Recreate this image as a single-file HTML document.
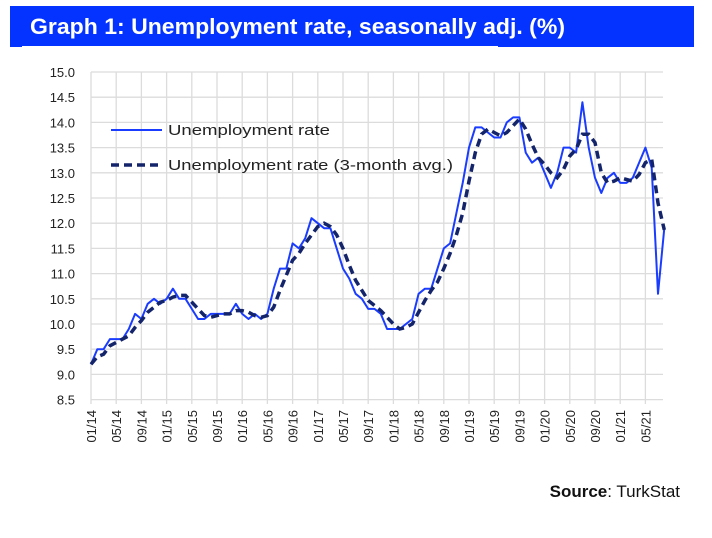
<!DOCTYPE html>
<html><head><meta charset="utf-8"><style>
body{margin:0;background:#fff;width:712px;height:533px;overflow:hidden;font-family:"Liberation Sans",sans-serif}
</style></head><body>
<svg id="s" width="712" height="533" xmlns="http://www.w3.org/2000/svg">
<rect x="10" y="6" width="684" height="41" fill="#0433ff"/>
<rect x="22" y="46" width="476" height="2" fill="#fff"/>
<text x="30" y="34" fill="#fff" font-size="22" font-weight="bold" textLength="535" lengthAdjust="spacingAndGlyphs">Graph 1: Unemployment rate, seasonally adj. (%)</text>
<g id="grid"></g>
<g id="lab" font-size="13" fill="#222"></g>
<polyline id="act" fill="none" stroke="#1a3cff" stroke-width="2" stroke-linejoin="round"/>
<polyline id="avg" fill="none" stroke="#14246b" stroke-width="3.5" stroke-dasharray="8,5"/>
<line x1="111" y1="130" x2="162" y2="130" stroke="#1a3cff" stroke-width="2"/>
<line x1="111" y1="165" x2="162" y2="165" stroke="#14246b" stroke-width="3.5" stroke-dasharray="8,5"/>
<text x="168" y="135" font-size="15" fill="#222" textLength="162" lengthAdjust="spacingAndGlyphs">Unemployment rate</text>
<text x="168" y="170" font-size="15" fill="#222" textLength="285" lengthAdjust="spacingAndGlyphs">Unemployment rate (3-month avg.)</text>
<text x="680" y="497" font-size="17" fill="#111" text-anchor="end"><tspan font-weight="bold">Source</tspan>: TurkStat</text>
</svg>
<script>
var v=[9.2,9.5,9.5,9.7,9.7,9.7,9.9,10.2,10.1,10.4,10.5,10.4,
10.5,10.7,10.5,10.5,10.3,10.1,10.1,10.2,10.2,10.2,10.2,10.4,
10.2,10.1,10.2,10.1,10.2,10.7,11.1,11.1,11.6,11.5,11.7,12.1,
12.0,11.9,11.9,11.5,11.1,10.9,10.6,10.5,10.3,10.3,10.2,9.9,
9.9,9.9,10.0,10.1,10.6,10.7,10.7,11.1,11.5,11.6,12.2,12.8,
13.5,13.9,13.9,13.8,13.7,13.7,14.0,14.1,14.1,13.4,13.2,13.3,
13.0,12.7,13.0,13.5,13.5,13.4,14.4,13.5,12.9,12.6,12.9,13.0,
12.8,12.8,12.9,13.2,13.5,13.1,10.6,11.9];
var X0=91,DX=6.3,Y=function(u){return 72+(15-u)*50.4};
var ns="http://www.w3.org/2000/svg",g=document.getElementById('grid'),l=document.getElementById('lab');
function el(t,a,p){var e=document.createElementNS(ns,t);for(var k in a)e.setAttribute(k,a[k]);p.appendChild(e);return e}
for(var k=0;k<=13;k++){var u=15-k*0.5,y=Y(u);el('line',{x1:X0,x2:663,y1:y,y2:y,stroke:'#dcdcdc','stroke-width':1.3},g);
var t=el('text',{x:75,y:y+5,'text-anchor':'end'},l);t.textContent=u.toFixed(1);}
var yrs=['14','15','16','17','18','19','20','21'],ms=['01','05','09'];
for(var i=0;i<=23;i++){var x=X0+i*4*DX;if(x>664)break;el('line',{x1:x,x2:x,y1:72,y2:404,stroke:'#dcdcdc','stroke-width':1.3},g);
if(i<=22){var lb=ms[i%3]+'/'+yrs[Math.floor(i/3)];var t=el('text',{x:0,y:0,'text-anchor':'end',transform:'translate('+(x+5)+',410) rotate(-90)'},l);t.textContent=lb;}}
var a=[],b=[];
for(var i=0;i<v.length;i++){a.push((X0+i*DX).toFixed(1)+','+Y(v[i]).toFixed(1));
var s=0,n=0;for(var j=Math.max(0,i-2);j<=i;j++){s+=v[j];n++}b.push((X0+i*DX).toFixed(1)+','+Y(s/n).toFixed(1));}
document.getElementById('act').setAttribute('points',a.join(' '));
document.getElementById('avg').setAttribute('points',b.join(' '));
</script>
</body></html>
